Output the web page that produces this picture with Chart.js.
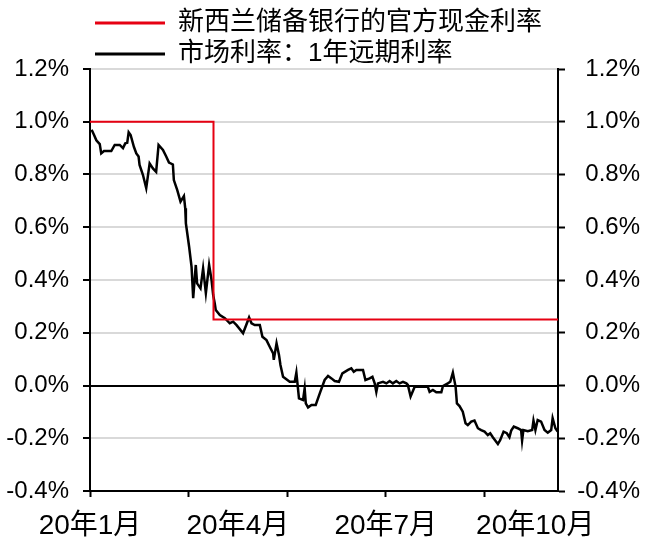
<!DOCTYPE html>
<html>
<head>
<meta charset="utf-8">
<script src="https://cdn.jsdelivr.net/npm/chart.js@4"></script>
<style>
  body { margin: 0; background: #fff; }
  #wrap { width: 653px; height: 549px; }
</style>
</head>
<body>
<div id="wrap"><canvas id="rateChart"></canvas></div>
<script>
// days counted from 2020-01-01
const policyDays = [0, 76, 288];
const policyRates = [1.0, 0.25, 0.25];

const marketDays = [1.0, 2.5, 3.9, 6.0, 6.9, 8.6, 13.1, 15.2, 18.3, 20.3, 21.7, 22.9, 23.8, 25.0, 27.0, 28.5, 29.9, 30.5, 32.6, 34.6,
    36.7, 38.7, 40.7, 42.2, 44.9, 46.9, 48.6, 51.0, 51.6, 53.7, 55.7, 57.8, 58.6, 59.0, 61.0, 62.5, 63.5, 65.1, 65.9, 68.0,
    69.6, 71.3, 73.3, 74.8, 75.8, 76.8, 77.4, 79.9, 83.0, 86.0, 88.1, 90.2, 94.2, 97.9, 99.4, 101.4, 104.5, 106.1, 108.6, 110.6,
    112.7, 113.1, 114.8, 116.3, 117.2, 118.8, 122.9, 126.0, 127.0, 128.6, 131.1, 132.1, 132.8, 134.2, 136.3, 138.9, 141.4, 144.4, 146.5, 148.6,
    150.6, 153.2, 155.3, 158.8, 160.8, 162.3, 163.9, 168.0, 169.5, 172.1, 173.8, 175.2, 176.2, 177.2, 180.3, 182.4, 184.4, 186.4, 188.5, 190.5,
    192.6, 194.7, 195.6, 197.3, 199.8, 207.9, 209.0, 211.0, 213.1, 216.2, 217.2, 220.2, 221.7, 223.3, 225.0, 225.8, 227.4, 229.4, 231.1, 232.5,
    234.6, 236.6, 238.7, 240.7, 242.8, 244.8, 246.3, 247.9, 251.0, 252.4, 254.5, 256.5, 258.1, 259.2, 260.8, 263.2, 265.3, 265.9, 266.7, 269.4,
    272.1, 272.9, 274.1, 275.5, 277.6, 279.7, 281.7, 283.8, 284.7, 286.4, 287.8];
const marketRates = [0.97, 0.95, 0.93, 0.915, 0.88, 0.889, 0.889, 0.912, 0.912, 0.90, 0.918, 0.92, 0.96, 0.95, 0.905, 0.88, 0.868, 0.836, 0.798, 0.748,
    0.842, 0.823, 0.81, 0.912, 0.893, 0.868, 0.845, 0.838, 0.779, 0.741, 0.697, 0.718, 0.672, 0.615, 0.526, 0.45, 0.331, 0.457, 0.387, 0.368,
    0.444, 0.35, 0.457, 0.40, 0.343, 0.31, 0.286, 0.267, 0.255, 0.236, 0.242, 0.229, 0.198, 0.258, 0.236, 0.229, 0.229, 0.185, 0.172, 0.147,
    0.122, 0.097, 0.16, 0.116, 0.078, 0.033, 0.014, 0.014, 0.049, -0.049, -0.055, -0.011, -0.068, -0.083, -0.074, -0.074, -0.03, 0.021, 0.036, 0.027,
    0.017, 0.014, 0.046, 0.059, 0.065, 0.052, 0.059, 0.059, 0.021, 0.027, 0.033, 0.008, -0.024, 0.008, 0.014, 0.008, 0.017, 0.008, 0.017, 0.008,
    0.014, 0.008, 0.002, -0.042, -0.005, -0.005, -0.024, -0.017, -0.026, -0.026, -0.002, 0.008, 0.014, 0.049, -0.005, -0.068, -0.078, -0.099, -0.143, -0.15,
    -0.137, -0.133, -0.162, -0.169, -0.175, -0.188, -0.181, -0.196, -0.222, -0.207, -0.175, -0.181, -0.196, -0.171, -0.156, -0.162, -0.169, -0.209, -0.169, -0.173,
    -0.169, -0.133, -0.169, -0.131, -0.137, -0.169, -0.179, -0.169, -0.124, -0.162, -0.175];

const tickDays = [0, 60.7, 91, 121.3, 182, 242.6, 274];
const markDays = [0, 60.7, 121.3, 182, 242.6];
const labelDays = [0, 91, 182, 274];
const monthLabels = ['20年1月', '20年4月', '20年7月', '20年10月'];

const seriesNames = ['新西兰储备银行的官方现金利率', '市场利率：1年远期利率'];

Chart.defaults.font.family = '"Liberation Sans", Arial, "Noto Sans CJK SC"';
Chart.defaults.color = '#000';

const fmtPct = v => (Math.abs(v) < 1e-9 ? 0 : v).toFixed(1) + '%';

// legend sits over the plot, not over the left axis labels
const legendIndent = {
    id: 'legendIndent',
    afterLayout(chart) {
        chart.legend.left = chart.chartArea.left;
    }
};

new Chart(document.getElementById('rateChart'), {
    type: 'line',
    data: {
        datasets: [
            {
                label: seriesNames[0],
                data: policyDays.map((d, i) => ({ x: d, y: policyRates[i] })),
                borderColor: '#e60012',
                backgroundColor: '#e60012',
                borderWidth: 2,
                stepped: 'before',
                pointRadius: 0
            },
            {
                label: seriesNames[1],
                data: marketDays.map((d, i) => ({ x: d, y: marketRates[i] })),
                borderColor: '#000',
                backgroundColor: '#000',
                borderWidth: 2.5,
                tension: 0,
                pointRadius: 0
            }
        ]
    },
    plugins: [legendIndent],
    options: {
        responsive: true,
        maintainAspectRatio: false,
        animation: false,
        layout: { padding: { left: 0, right: 13, top: 5, bottom: 0 } },
        plugins: {
            tooltip: { enabled: false },
            legend: {
                position: 'top',
                align: 'start',
                maxHeight: 64,
                labels: {
                    boxWidth: 70,
                    boxHeight: 3,
                    padding: 5,
                    font: { size: 26 },
                    generateLabels: chart => Chart.defaults.plugins.legend.labels.generateLabels(chart)
                        .map(l => Object.assign(l, { lineWidth: 0 }))
                }
            }
        },
        scales: {
            x: {
                type: 'linear',
                min: 0,
                max: 288,
                afterBuildTicks: s => { s.ticks = tickDays.map(v => ({ value: v })); },
                afterFit: s => { s.height = 58; },
                border: { color: '#000', width: 2 },
                grid: {
                    drawOnChartArea: false,
                    tickLength: 6,
                    tickWidth: 2,
                    tickColor: c => markDays.includes(c.tick && c.tick.value) ? '#000' : 'rgba(0,0,0,0)'
                },
                ticks: {
                    autoSkip: false,
                    maxRotation: 0,
                    padding: 12,
                    font: { size: 28 },
                    callback: v => {
                        const i = labelDays.indexOf(v);
                        return i >= 0 ? monthLabels[i] : '';
                    }
                }
            },
            y: {
                position: 'left',
                min: -0.4,
                max: 1.2,
                afterFit: s => { s.width = 90; },
                border: { color: '#000', width: 2 },
                grid: {
                    color: c => Math.abs(c.tick.value) < 1e-9 ? '#000' : '#d9d9d9',
                    lineWidth: 2,
                    tickColor: '#000',
                    tickLength: 7,
                    tickWidth: 2
                },
                ticks: { stepSize: 0.2, padding: 14, font: { size: 24 }, callback: fmtPct }
            },
            y2: {
                position: 'right',
                min: -0.4,
                max: 1.2,
                afterFit: s => { s.width = 82; },
                border: { color: '#000', width: 2 },
                grid: {
                    drawOnChartArea: false,
                    tickColor: '#000',
                    tickLength: 7,
                    tickWidth: 2
                },
                ticks: { stepSize: 0.2, padding: 13, crossAlign: 'far', font: { size: 24 }, callback: fmtPct }
            }
        }
    }
});
</script>
</body>
</html>
